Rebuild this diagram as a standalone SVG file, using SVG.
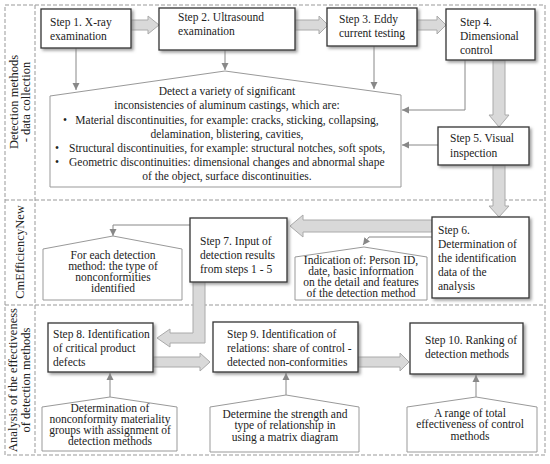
<svg xmlns="http://www.w3.org/2000/svg" width="550" height="464" viewBox="0 0 550 464">
<style>
text{font-family:"Liberation Serif","Times New Roman",serif;font-size:11.5px;fill:#222}
.lbl{font-size:12.5px}
.c{text-anchor:middle}
.box{fill:#fff;stroke:#333;stroke-width:1.3;filter:url(#sh)}
.pent{fill:#fff;stroke:#999;stroke-width:1}
.big{fill:#d9d9d9;stroke:#aaa;stroke-width:1}
.thin{fill:none;stroke:#888;stroke-width:1;marker-end:url(#ah)}
.dash{fill:none;stroke:#999;stroke-width:1;stroke-dasharray:4 2}
</style>
<defs>
<filter id="sh" x="-10%" y="-10%" width="130%" height="140%">
<feDropShadow dx="2" dy="2" stdDeviation="1.5" flood-color="#777" flood-opacity="0.7"/>
</filter>
<marker id="ah" markerUnits="userSpaceOnUse" markerWidth="8" markerHeight="8" refX="7" refY="4" orient="auto">
<path d="M0,0.5 L7,4 L0,7.5 Z" fill="#888"/>
</marker>
</defs>
<rect width="550" height="464" fill="#fff"/>
<g id="frame">
<rect class="dash" x="5" y="5" width="540" height="450"/>
<line class="dash" x1="35" y1="5" x2="35" y2="455"/>
<line class="dash" x1="5" y1="200" x2="545" y2="200"/>
<line class="dash" x1="5" y1="305" x2="545" y2="305"/>
</g>
<g id="labels">
<text class="lbl c" transform="translate(18,102) rotate(-90)">Detection methods</text>
<text class="lbl c" transform="translate(30,102) rotate(-90)">- data collection</text>
<text class="lbl c" transform="translate(24,252) rotate(-90)">CmEfficiencyNew</text>
<text class="lbl c" transform="translate(17,380) rotate(-90)">Analysis of the effectiveness</text>
<text class="lbl c" transform="translate(30,380) rotate(-90)">of detection methods</text>
</g>
<g id="connectors">
<polygon class="big" points="131,20 148,20 148,16 159,25 148,34 148,30 131,30"/>
<polygon class="big" points="295,20 319,20 319,16 328,25 319,34 319,30 295,30"/>
<polygon class="big" points="417,20 437,20 437,16 446,25 437,34 437,30 417,30"/>
<polygon class="big" points="493,60 505,60 505,115 509,115 499,127 489,115 493,115"/>
<polygon class="big" points="493,165 505,165 505,206 509,206 499,217 489,206 493,206"/>
<polygon class="big" points="432,220 303,220 303,215 290,226 303,237 303,232 432,232"/>
<polygon class="big" points="193,281 205,281 205,343 170,343 170,347 157,338 170,329 170,333 193,333"/>
<polygon class="big" points="153,357 200,357 200,353 210,362 200,371 200,367 153,367"/>
<polygon class="big" points="358,357 400,357 400,353 409,362 400,371 400,367 358,367"/>
<polyline class="thin" points="76,48 76,90"/>
<polyline class="thin" points="225,50 225,70"/>
<polyline class="thin" points="374,46 374,89"/>
<polyline class="thin" points="465,60 465,110 402,110"/>
<polyline class="thin" points="438,145 402,145"/>
<polyline class="thin" points="190,225 113,225 113,236"/>
<polyline class="thin" points="432,237 369,237 363,245"/>
<polyline class="thin" points="110,397 110,373"/>
<polyline class="thin" points="286,395 286,373"/>
<polyline class="thin" points="476,397 476,375"/>
</g>
<g id="step1">
<rect class="box" x="41" y="9" width="90" height="39"/>
<text x="50" y="26">Step 1. X-ray</text>
<text x="50" y="40">examination</text>
</g>
<g id="step2">
<rect class="box" x="159" y="8" width="136" height="42"/>
<text x="178" y="21">Step 2. Ultrasound</text>
<text x="178" y="35">examination</text>
</g>
<g id="step3">
<rect class="box" x="327" y="8" width="90" height="38"/>
<text x="339" y="23">Step 3. Eddy</text>
<text x="339" y="37">current testing</text>
</g>
<g id="step4">
<rect class="box" x="446" y="9" width="89" height="51"/>
<text x="460" y="26">Step 4.</text>
<text x="460" y="40">Dimensional</text>
<text x="460" y="54">control</text>
</g>
<g id="detect">
<polygon class="pent" points="50,96 225,71 401,95 401,187 50,187"/>
<text class="c" x="227" y="95">Detect a variety of significant</text>
<text class="c" x="227" y="109">inconsistencies of aluminum castings, which are:</text>
<text x="63" y="124">•</text>
<text class="c" x="227" y="124">Material discontinuities, for example: cracks, sticking, collapsing,</text>
<text class="c" x="227" y="138">delamination, blistering, cavities,</text>
<text x="55" y="152">•</text>
<text x="69" y="152">Structural discontinuities, for example: structural notches, soft spots,</text>
<text x="55" y="166">•</text>
<text x="69" y="166">Geometric discontinuities: dimensional changes and abnormal shape</text>
<text class="c" x="227" y="180">of the object, surface discontinuities.</text>
</g>
<g id="step5">
<rect class="box" x="438" y="127" width="91" height="38"/>
<text x="450" y="142">Step 5. Visual</text>
<text x="450" y="157">inspection</text>
</g>
<g id="step6">
<rect class="box" x="432" y="217" width="97" height="81"/>
<text x="438" y="234">Step 6.</text>
<text x="438" y="248">Determination of</text>
<text x="438" y="262">the identification</text>
<text x="438" y="276">data of the</text>
<text x="438" y="290">analysis</text>
</g>
<g id="step7">
<rect class="box" x="190" y="218" width="97" height="64"/>
<text x="200" y="245">Step 7. Input of</text>
<text x="200" y="259">detection results</text>
<text x="200" y="273">from steps 1 - 5</text>
</g>
<g id="foreach">
<polygon class="pent" points="43,249 113,236 182,249 182,300 43,300"/>
<text class="c" x="113" y="259">For each detection</text>
<text class="c" x="113" y="270">method: the type of</text>
<text class="c" x="113" y="281">nonconformities</text>
<text class="c" x="113" y="292">identified</text>
</g>
<g id="indication">
<polygon class="pent" points="295,257 364,247 427,257 427,300 295,300"/>
<text class="c" x="361" y="264">Indication of: Person ID,</text>
<text class="c" x="361" y="275">date, basic information</text>
<text class="c" x="361" y="286">on the detail and features</text>
<text class="c" x="361" y="297">of the detection method</text>
</g>
<g id="step8">
<rect class="box" x="48" y="323" width="105" height="49"/>
<text x="53" y="338">Step 8. Identification</text>
<text x="53" y="352">of critical product</text>
<text x="53" y="366">defects</text>
</g>
<g id="step9">
<rect class="box" x="213" y="322" width="145" height="50"/>
<text x="227" y="338">Step 9. Identification of</text>
<text x="227" y="352">relations: share of control -</text>
<text x="227" y="366">detected non-conformities</text>
</g>
<g id="step10">
<rect class="box" x="410" y="323" width="113" height="51"/>
<text x="425" y="344">Step 10. Ranking of</text>
<text x="425" y="358">detection methods</text>
</g>
<g id="materiality">
<polygon class="pent" points="42,407 110,397 177,407 177,451 42,451"/>
<text class="c" x="110" y="412">Determination of</text>
<text class="c" x="110" y="423">nonconformity materiality</text>
<text class="c" x="110" y="434">groups with assignment of</text>
<text class="c" x="110" y="445">detection methods</text>
</g>
<g id="strength">
<polygon class="pent" points="210,407 286,395 359,407 359,452 210,452"/>
<text class="c" x="285" y="418">Determine the strength and</text>
<text class="c" x="285" y="429">type of relationship in</text>
<text class="c" x="285" y="441">using a matrix diagram</text>
</g>
<g id="range">
<polygon class="pent" points="407,407 476,397 537,407 537,452 407,452"/>
<text class="c" x="470" y="417">A range of total</text>
<text class="c" x="470" y="428">effectiveness of control</text>
<text class="c" x="470" y="440">methods</text>
</g>
</svg>
